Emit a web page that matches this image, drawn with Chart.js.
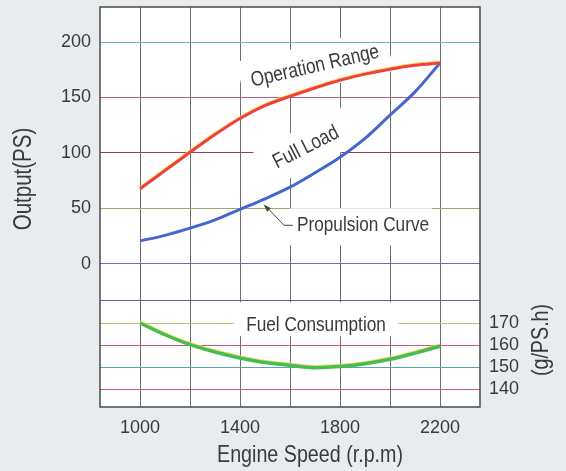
<!DOCTYPE html>
<html>
<head>
<meta charset="utf-8">
<script src="https://cdn.jsdelivr.net/npm/chart.js@4.4.1/dist/chart.umd.min.js"></script>
<style>
  html, body { margin: 0; padding: 0; background: #e9ecee; }
  canvas { display: block; }
</style>
</head>
<body>
<canvas id="engine" width="566" height="471"></canvas>
<script>
// engine speed (rpm) where the curves were read
const speed = [1000, 1100, 1200, 1300, 1400, 1500, 1600, 1700, 1800, 1900, 2000, 2100, 2200];
// output (PS)
const operationRange = [67.5, 84, 100.5, 116.5, 131, 142.5, 151, 158.5, 165.5, 171, 175.5, 179, 181];
const fullLoad = [20.5, 25.5, 32, 39.5, 49, 58.5, 69, 82, 96, 113, 134, 155, 181];
// fuel consumption (g/PS.h)
const fuelConsumption = [170, 164.7, 160.2, 156.9, 154.2, 152.1, 150.9, 149.8, 150.3, 151.6, 153.6, 156.4, 159.5];

const speedGrid = [1000, 1200, 1400, 1600, 1800, 2000, 2200];
const speedLabels = [1000, 1400, 1800, 2200];
const outputTicks = [0, 50, 100, 150, 200];
const fuelTicks = [140, 150, 160, 170];
const fuelDivider = 180;

const FONT = '"Liberation Sans", Arial, sans-serif';
const NARROW = 0.82;   // the print uses a condensed face
const TEXT = '#3a3a3a';

const outputGridColors = { 0: '#6e6abd', 50: '#a0a86c', 100: '#94405f', 150: '#b0608c', 200: '#68b2d4' };
const fuelGridColors = { 140: '#c65e72', 150: '#5aa4aa', 160: '#c8587c', 170: '#c4bf6c', 180: '#6a55ab' };

function pairs(ys) {
  return speed.map((s, i) => ({ x: s, y: ys[i] }));
}

function halo(ctx, cx, cy, angle, x0, y0, w, h) {
  ctx.save();
  ctx.translate(cx, cy);
  ctx.rotate(angle * Math.PI / 180);
  ctx.fillStyle = '#ffffff';
  ctx.fillRect(x0, y0, w, h);
  ctx.restore();
}

function note(ctx, text, cx, cy, angle, align, size) {
  ctx.save();
  ctx.translate(cx, cy);
  ctx.rotate(angle * Math.PI / 180);
  ctx.scale(NARROW, 1);
  ctx.font = size + 'px ' + FONT;
  ctx.fillStyle = TEXT;
  ctx.textAlign = align;
  ctx.textBaseline = 'middle';
  ctx.fillText(text, 0, 0);
  ctx.restore();
}

function noPad(s) {
  s.paddingTop = 0;
  s.paddingBottom = 0;
  s.paddingLeft = 0;
  s.paddingRight = 0;
}

const notes = {
  id: 'notes',
  beforeDraw(chart) {
    const { ctx, chartArea: a } = chart;
    ctx.save();
    ctx.fillStyle = '#e9ecee';
    ctx.fillRect(0, 0, chart.width, chart.height);
    ctx.fillStyle = '#ffffff';
    ctx.fillRect(a.left, a.top, a.width, a.height);
    ctx.restore();
  },
  beforeDatasetsDraw(chart) {
    const ctx = chart.ctx;
    const { x, y, y2 } = chart.scales;

    const op = [x.getPixelForValue(1700), y.getPixelForValue(178)];
    const fl = [x.getPixelForValue(1664), y.getPixelForValue(104.7)];
    const pc = [x.getPixelForValue(1628), y.getPixelForValue(34.6)];
    const fc = [x.getPixelForValue(1704), y2.getPixelForValue(169)];

    // white space round the rotated label only breaks the vertical lines
    halo(ctx, op[0], op[1], -13, -76, -22, 152, 44);
    y.drawGrid(chart.chartArea);

    halo(ctx, fl[0], fl[1], -27, -49, -20, 98, 40);
    halo(ctx, pc[0], pc[1], 0, -7, -17, 142, 37);
    halo(ctx, fc[0], fc[1], 0, -82, -23, 164, 34);

    note(ctx, 'Operation Range', op[0], op[1], -13, 'center', 21);
    note(ctx, 'Full Load', fl[0], fl[1], -27, 'center', 21);
    note(ctx, 'Propulsion Curve', pc[0], pc[1], 0, 'left', 21);
    note(ctx, 'Fuel Consumption', fc[0], fc[1], 0, 'center', 21);

    // leader from the label to the curve
    ctx.save();
    ctx.strokeStyle = '#444';
    ctx.fillStyle = '#444';
    ctx.lineWidth = 1;
    ctx.beginPath();
    ctx.moveTo(pc[0] - 4, pc[1]);
    ctx.lineTo(pc[0] - 13, pc[1]);
    ctx.lineTo(pc[0] - 31, pc[1] - 19);
    ctx.stroke();
    const tx = pc[0] - 33.5, ty = pc[1] - 21;
    const ang = Math.atan2(19, 18);
    ctx.beginPath();
    ctx.moveTo(tx, ty);
    ctx.lineTo(tx + 8 * Math.cos(ang) - 2.5 * Math.sin(ang), ty + 8 * Math.sin(ang) + 2.5 * Math.cos(ang));
    ctx.lineTo(tx + 8 * Math.cos(ang) + 2.5 * Math.sin(ang), ty + 8 * Math.sin(ang) - 2.5 * Math.cos(ang));
    ctx.closePath();
    ctx.fill();
    ctx.restore();
  },
  // printed red and green carry a thin yellow edge on top
  beforeDatasetDraw(chart, args) {
    if (args.index === 1) return;
    const ctx = chart.ctx;
    ctx.save();
    ctx.shadowColor = 'rgba(245, 210, 50, 0.75)';
    ctx.shadowOffsetY = -1;
    ctx.shadowBlur = 0;
  },
  afterDatasetDraw(chart, args) {
    if (args.index === 1) return;
    chart.ctx.restore();
  },
  afterDraw(chart) {
    const { ctx, chartArea: a } = chart;
    ctx.save();
    ctx.strokeStyle = '#4a4a4a';
    ctx.lineWidth = 1.5;
    ctx.strokeRect(a.left, a.top, a.width, a.height);
    ctx.restore();

    note(ctx, 'Output(PS)', 24, 179, -90, 'center', 25);
    note(ctx, '(g/PS.h)', 541, 340, -90, 'center', 24);
    note(ctx, 'Engine Speed (r.p.m)', 310, 455, 0, 'center', 24);
  }
};

new Chart(document.getElementById('engine'), {
  type: 'line',
  data: {
    datasets: [
      {
        label: 'Operation Range',
        data: pairs(operationRange),
        borderColor: '#f0403e',
        borderWidth: 3,
        yAxisID: 'y'
      },
      {
        label: 'Full Load',
        data: pairs(fullLoad),
        borderColor: '#4566cf',
        borderWidth: 3,
        yAxisID: 'y'
      },
      {
        label: 'Fuel Consumption',
        data: pairs(fuelConsumption),
        borderColor: '#44bd55',
        borderWidth: 3.5,
        yAxisID: 'y2'
      }
    ]
  },
  options: {
    responsive: false,
    animation: false,
    events: [],
    layout: { padding: { top: 7, left: 0, right: 0, bottom: 0 } },
    elements: {
      point: { radius: 0 },
      line: { cubicInterpolationMode: 'monotone', fill: false }
    },
    plugins: {
      legend: { display: false },
      tooltip: { enabled: false }
    },
    scales: {
      x: {
        type: 'linear',
        min: 840,
        max: 2360,
        afterBuildTicks: s => { s.ticks = speedGrid.map(v => ({ value: v })); },
        afterFit: s => { s.height = 64; noPad(s); },
        border: { display: false },
        grid: { color: '#6e6e6e', lineWidth: 1, drawTicks: false },
        ticks: {
          autoSkip: false,
          maxRotation: 0,
          padding: 10,
          color: TEXT,
          font: { family: FONT, size: 18 },
          callback: v => speedLabels.includes(v) ? String(v) : ''
        }
      },
      y: {
        type: 'linear',
        position: 'left',
        min: -129.4,
        max: 231.6,
        afterBuildTicks: s => { s.ticks = outputTicks.map(v => ({ value: v })); },
        afterFit: s => { s.width = 100; noPad(s); },
        border: { display: false },
        grid: {
          color: c => outputGridColors[c.tick.value] || '#888',
          lineWidth: 1,
          drawTicks: false
        },
        ticks: {
          padding: 9,
          color: TEXT,
          font: { family: FONT, size: 18 },
          callback: v => String(v)
        }
      },
      y2: {
        type: 'linear',
        position: 'right',
        min: 132,
        max: 313,
        afterBuildTicks: s => { s.ticks = fuelTicks.concat([fuelDivider]).map(v => ({ value: v })); },
        afterFit: s => { s.width = 86; noPad(s); },
        border: { display: false },
        grid: {
          color: c => fuelGridColors[c.tick.value] || '#888',
          lineWidth: 1,
          drawTicks: false
        },
        ticks: {
          padding: 9,
          color: TEXT,
          font: { family: FONT, size: 18 },
          callback: v => fuelTicks.includes(v) ? String(v) : ''
        }
      }
    }
  },
  plugins: [notes]
});
</script>
</body>
</html>
